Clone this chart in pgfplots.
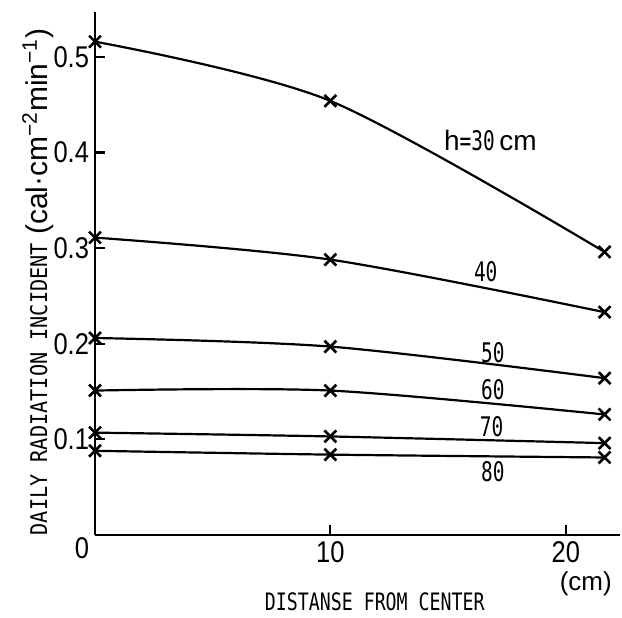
\documentclass[border=0pt]{standalone}
\usepackage{fontspec}
\setmainfont{Liberation Sans}
\newfontfamily\cond{DejaVu Sans Mono}
\usepackage{pgfplots}
\pgfplotsset{compat=1.18}
\pgfplotsset{rad/.style={black, line width=1.1pt, smooth, mark=x, mark size=4.2pt, mark options={line width=1.3pt, solid}}}
\newcommand{\nlab}[1]{\scalebox{0.72}[1]{\fontsize{13.5}{14}\cond #1}}
\begin{document}
\begin{tikzpicture}
\begin{axis}[
  scale only axis, width=262.5pt, height=261.5pt,
  xmin=0, xmax=22.3, ymin=0, ymax=0.547,
  axis lines=left, axis line style={line width=1.3pt, -},
  xtick={10,20}, xticklabels={10,20},
  ytick={0,0.1,0.2,0.3,0.4,0.5},
  yticklabels={\raisebox{-12pt}[0pt][0pt]{0},0.1,0.2,0.3,0.4,0.5},
  tick align=inside, major tick length=5pt,
  tick style={line width=1.1pt, black},
  ticklabel style={font=\fontsize{15}{15}\selectfont, xscale=0.85},
  /pgf/number format/assume math mode=true,
  clip=false,
]
% h = 30
\addplot[rad] coordinates {(0,0.516) (10,0.454) (21.65,0.296)};
% h = 40
\addplot[rad] coordinates {(0,0.311) (10,0.288) (21.65,0.233)};
% h = 50
\addplot[rad] coordinates {(0,0.206) (10,0.197) (21.65,0.164)};
% h = 60
\addplot[rad] coordinates {(0,0.151) (10,0.151) (21.65,0.126)};
% h = 70
\addplot[rad] coordinates {(0,0.107) (10,0.103) (21.65,0.096)};
% h = 80
\addplot[rad] coordinates {(0,0.088) (10,0.084) (21.65,0.081)};

\node at (axis cs:16.8,0.413) {\fontsize{14}{14}\selectfont h\nlab{=30}\,cm};
\node at (axis cs:16.6,0.275) {\nlab{40}};
\node at (axis cs:16.9,0.191) {\nlab{50}};
\node at (axis cs:16.9,0.152) {\nlab{60}};
\node at (axis cs:16.85,0.113) {\nlab{70}};
\node at (axis cs:16.9,0.066) {\nlab{80}};

\node[rotate=90] at (rel axis cs:-0.109,0.484)
  {\scalebox{0.88}[1]{\fontsize{11.5}{12}\cond DAILY RADIATION INCIDENT}\hspace{4pt}{\fontsize{15}{15}\selectfont (cal·cm\textsuperscript{−2}min\textsuperscript{−1})}};
\node at (rel axis cs:0.533,-0.128) {\scalebox{0.76}[1]{\fontsize{12}{12}\cond DISTANSE FROM CENTER}};
\node at (rel axis cs:0.935,-0.094) {\fontsize{13}{13}\selectfont (cm)};

\path (rel axis cs:-0.181,-0.147) rectangle (rel axis cs:1.004,1.023);
\end{axis}
\end{tikzpicture}
\end{document}
